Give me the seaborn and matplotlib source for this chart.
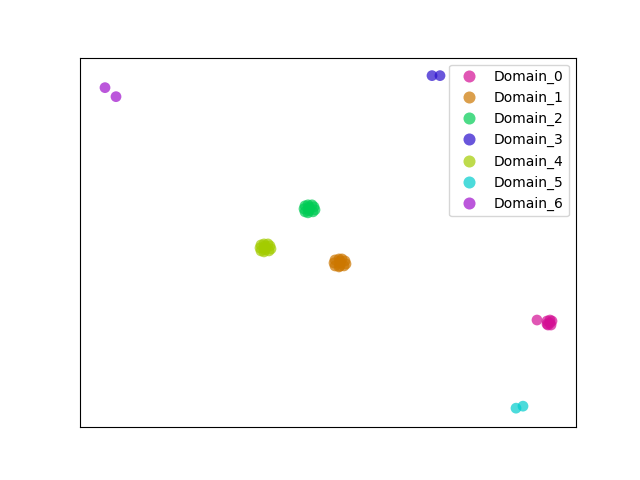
import numpy as np
import pandas as pd
import seaborn as sns
from matplotlib import pyplot as plt

# 2-d embedding per domain (arbitrary units)
domain_0_x = [537, 547, 550, 552, 548, 551, 547, 550]
domain_0_y = [-320, -321, -320, -321, -325, -325, -324, -323]
domain_1_x = [335, 339, 342, 345, 335, 339, 344, 340, 334, 346, 340, 340]
domain_1_y = [-260, -259, -259, -261, -266, -267, -266, -263, -263, -264, -261, -266]
domain_2_x = [305, 308, 312, 314, 305, 308, 313, 309, 304, 315, 309, 309]
domain_2_y = [-206, -205, -205, -207, -212, -213, -212, -209, -209, -210, -207, -211]
domain_3_x = [432, 440]
domain_3_y = [-76, -76]
domain_4_x = [261, 264, 268, 270, 261, 264, 269, 265, 260, 271, 265, 265]
domain_4_y = [-245, -244, -244, -246, -251, -252, -251, -248, -248, -249, -246, -250]
domain_5_x = [516, 523]
domain_5_y = [-408, -406]
domain_6_x = [105, 116]
domain_6_y = [-88, -97]

domains = ["Domain_0", "Domain_1", "Domain_2", "Domain_3",
           "Domain_4", "Domain_5", "Domain_6"]
colors = ["#d40f94", "#cc7700", "#00cc55", "#2a0fcc",
          "#a3cc00", "#00cccc", "#9f10cc"]

xs = [domain_0_x, domain_1_x, domain_2_x, domain_3_x, domain_4_x, domain_5_x, domain_6_x]
ys = [domain_0_y, domain_1_y, domain_2_y, domain_3_y, domain_4_y, domain_5_y, domain_6_y]

frames = []
for name, x, y in zip(domains, xs, ys):
    frames.append(pd.DataFrame({"x": x, "y": y, "domain": name}))
df = pd.concat(frames, ignore_index=True)

fig, ax = plt.subplots(figsize=(6.4, 4.8), dpi=100)
sns.scatterplot(data=df, x="x", y="y", hue="domain", hue_order=domains,
                palette=colors, s=60, alpha=0.7, linewidth=0, ax=ax)
ax.set_xlim(80, 576)
ax.set_ylim(-427, -58)
ax.set_xticks([])
ax.set_yticks([])
ax.set_xlabel("")
ax.set_ylabel("")
ax.legend(loc="upper right", title=None, markerscale=1.12)

plt.savefig("out.png")
